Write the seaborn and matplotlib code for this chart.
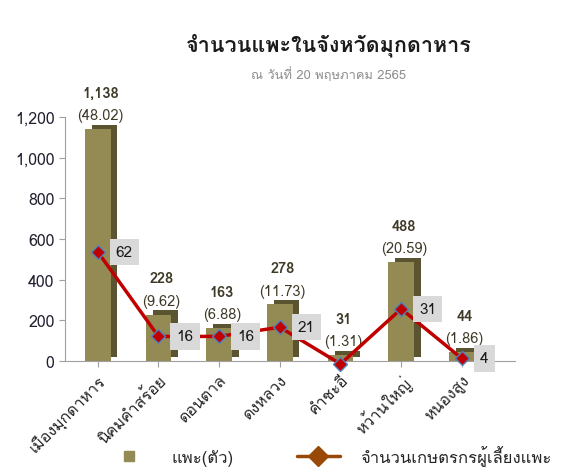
import numpy as np
import pandas as pd
import matplotlib
matplotlib.use("Agg")
import matplotlib.pyplot as plt
import matplotlib.patheffects as pe
import seaborn as sns
from matplotlib import font_manager
from matplotlib.ft2font import FT2Font
from matplotlib.lines import Line2D

districts = ['เมืองมุกดาหาร', 'นิคมคำสร้อย', 'ดอนตาล', 'ดงหลวง', 'คำชะอี', 'หว้านใหญ่', 'หนองสูง']
goats = [1138, 228, 163, 278, 31, 488, 44]
goat_pct = [48.02, 9.62, 6.88, 11.73, 1.31, 20.59, 1.86]
farmers = [62, 16, 16, 21, 1, 31, 4]

# look for any installed font that has Thai glyphs
thai_font = None
for f in font_manager.fontManager.ttflist:
    try:
        if 0x0E08 in FT2Font(f.fname).get_charmap():
            thai_font = f.name
            break
    except Exception:
        pass

sns.set_style("white")
plt.rcParams['font.family'] = ([thai_font] if thai_font else []) + ['DejaVu Sans']

df = pd.DataFrame({'district': districts, 'goats': goats, 'pct': goat_pct, 'farmers': farmers})

fig = plt.figure(figsize=(5.62, 4.77), dpi=100)
ax = fig.add_axes([0.1157, 0.241, 0.80, 0.512])
sns.barplot(data=df, x='district', y='goats', color='#948a54', linewidth=0,
            width=0.42, saturation=1, ax=ax)
# fake 3D depth with a dark offset shadow
for bar in ax.patches:
    bar.set_path_effects([pe.SimplePatchShadow(offset=(5, 3), shadow_rgbFace='#5b5430', alpha=1),
                          pe.Normal()])
ax.set_ylim(0, 1200)
ax.set_yticks(range(0, 1201, 200))
ax.set_yticklabels([f'{v:,}' for v in range(0, 1201, 200)], fontsize=11.5, color='#1f1f2f')
ax.set_xlabel('')
ax.set_ylabel('')
ax.set_xlim(-0.54, 6.87)
ax.tick_params(axis='x', length=4, color='#a0a0a0', bottom=True)
ax.tick_params(axis='y', length=4, color='#a0a0a0', left=True)
plt.setp(ax.get_xticklabels(), rotation=45, ha='right', rotation_mode='anchor', fontsize=11.5)
for s in ['top', 'right']:
    ax.spines[s].set_visible(False)
ax.spines['left'].set_color('#a0a0a0')
ax.spines['bottom'].set_color('#a0a0a0')

for i, (g, p) in enumerate(zip(goats, goat_pct)):
    ax.annotate(f'{g:,}', (i, g), xytext=(2, 21), textcoords='offset points', ha='center',
                va='bottom', fontsize=10.5, fontweight='bold', color='#3f3a28')
    ax.annotate(f'({p:.2f})', (i, g), xytext=(2, 5), textcoords='offset points', ha='center',
                va='bottom', fontsize=10.5, color='#3f3a28')

ax2 = ax.twinx()
ax2.plot(range(len(farmers)), farmers, color='#c00000', lw=2.5, marker='D', ms=7,
         mfc='#c00000', mec='#4f81bd', mew=1, clip_on=False, zorder=5)
ax2.set_ylim(2.6, 135.5)
ax2.axis('off')
for i, v in enumerate(farmers):
    ax2.annotate(str(v), (i, v), xytext=(13, 0), textcoords='offset points', ha='left', va='center',
                 fontsize=11, color='#1a1a1a', zorder=6,
                 bbox=dict(boxstyle='square,pad=0.4', fc='#d9d9d9', ec='none'))

fig.text(0.585, 0.906, 'จำนวนแพะในจังหวัดมุกดาหาร', ha='center', va='center', fontsize=15.5,
         fontweight='bold', color='#1a1a1a')
fig.text(0.585, 0.843, 'ณ วันที่ 20 พฤษภาคม 2565', ha='center', va='center', fontsize=9.3,
         color='#8c8c8c')

handles = [Line2D([], [], ls='none', marker='s', ms=7, color='#948a54'),
           Line2D([], [], color='#984807', lw=2.5, marker='D', ms=10)]
fig.legend(handles, ['แพะ(ตัว)', 'จำนวนเกษตรกรผู้เลี้ยงแพะ'], loc='lower left',
           bbox_to_anchor=(0.165, -0.01), ncol=2, frameon=False, fontsize=12,
           columnspacing=3.8, handlelength=2.6, handletextpad=1.2)

fig.savefig('out.png', dpi=100)
